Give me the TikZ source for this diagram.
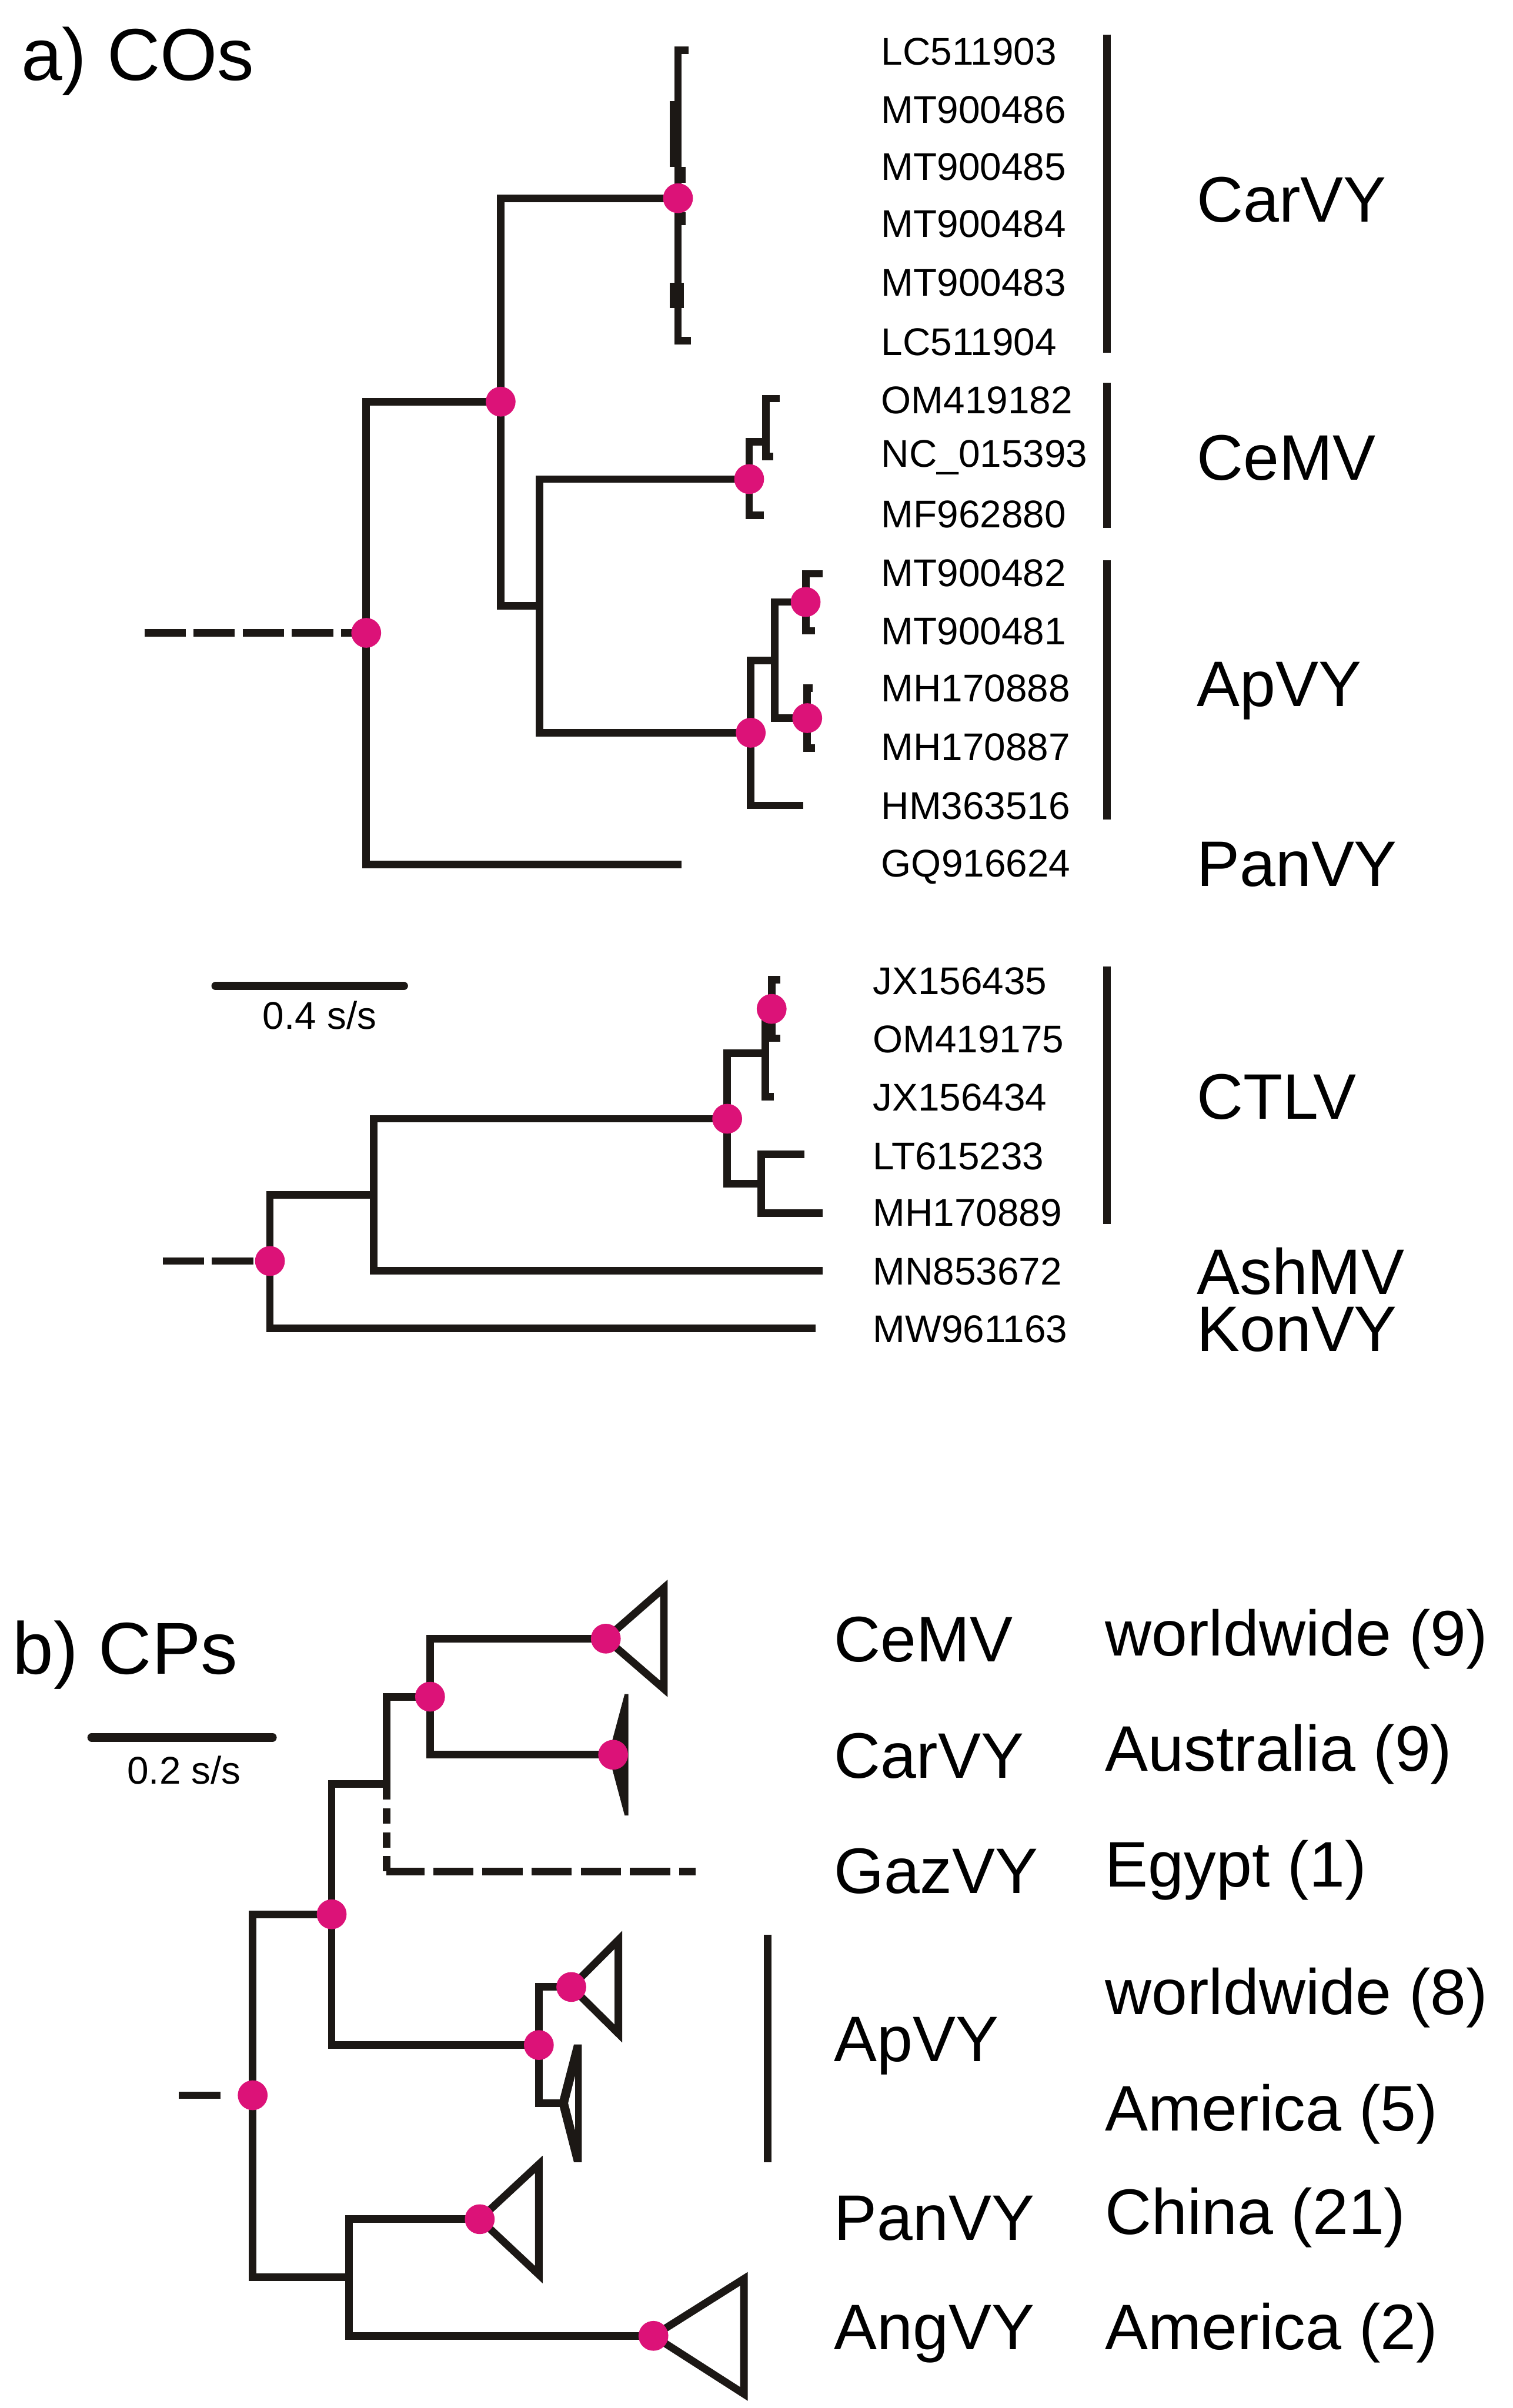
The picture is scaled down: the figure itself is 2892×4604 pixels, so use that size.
\documentclass[tikz,border=0pt]{standalone}
\usepackage{fontspec}
\setmainfont{Liberation Sans}
\definecolor{treeink}{RGB}{28,24,21}
\definecolor{support}{RGB}{220,18,120}

\begin{document}
\begin{tikzpicture}[
  x=0.1mm, y=-0.1mm,
  branch/.style={draw=treeink, line width=4.1pt},
  rootdash/.style={branch, dash pattern=on 7.9mm off 1.5mm},
  scalebar/.style={draw=treeink, line width=4.5pt, line cap=round},
  dot/.style={circle, fill=support, inner sep=0pt, minimum size=5.7mm},
  acc/.style={anchor=base west, inner sep=0pt, font=\fontsize{21}{21}\selectfont},
  virus/.style={anchor=base west, inner sep=0pt, font=\fontsize{35}{35}\selectfont},
  panel/.style={anchor=base west, inner sep=0pt, font=\fontsize{40}{40}\selectfont}
]
\useasboundingbox (0,0) rectangle (2892,4604);

% panel titles
\node[panel] (titleA) at (40,153) {a) COs};
\node[panel] (titleB) at (24,3201) {b) CPs};

% ---- a) upper tree
\coordinate (aStub) at (276,1210);
\coordinate (aRoot) at (700,1210);
\coordinate (aN1) at (957,768);
\coordinate (aPan) at (1303,1653);
\coordinate (aCar) at (1296,379);
\coordinate (aN2) at (1031,1158);
\coordinate (aCe) at (1432,916);
\coordinate (aAp) at (1435,1401);
\coordinate (aCarTop) at (1316,96);
\coordinate (aCarBot) at (1321,651);
\coordinate (aCe2) at (1464,845);
\coordinate (aCeT1) at (1490,762);
\coordinate (aCeT2) at (1478,873);
\coordinate (aCeT3) at (1460,985);
\coordinate (aAp2) at (1481,1263);
\coordinate (aAp3) at (1540,1151);
\coordinate (aAp4) at (1543,1373);
\coordinate (aApT1) at (1573,1097);
\coordinate (aApT2) at (1558,1206);
\coordinate (aApT3) at (1553,1316);
\coordinate (aApT4) at (1558,1430);
\coordinate (aApT5) at (1535,1540);

\draw[rootdash] (aStub) -- (aRoot);
\draw[branch] (aRoot) |- (aN1);
\draw[branch] (aRoot) |- (aPan);
\draw[branch] (aN1) |- (aCar);
\draw[branch] (aN1) |- (aN2);
\draw[branch] (aN2) |- (aCe);
\draw[branch] (aN2) |- (aAp);
\draw[branch] (aCar) |- (aCarTop);
\draw[branch] (aCar) |- (aCarBot);
\draw[branch] (aCe) |- (aCe2);
\draw[branch] (aCe2) |- (aCeT1);
\draw[branch] (aCe2) |- (aCeT2);
\draw[branch] (aCe) |- (aCeT3);
\draw[branch] (aAp) |- (aAp2);
\draw[branch] (aAp) |- (aApT5);
\draw[branch] (aAp2) |- (aAp3);
\draw[branch] (aAp2) |- (aAp4);
\draw[branch] (aAp3) |- (aApT1);
\draw[branch] (aAp3) |- (aApT2);
\draw[branch] (aAp4) |- (aApT3);
\draw[branch] (aAp4) |- (aApT4);

% near-zero branches inside CarVY
\coordinate (aCv1) at (1288,193);
\coordinate (aCv2) at (1288,319);
\coordinate (aCv3) at (1303,319);
\coordinate (aCv4) at (1303,350);
\coordinate (aCv5) at (1303,406);
\coordinate (aCv6) at (1303,431);
\coordinate (aCv7) at (1287,541);
\coordinate (aCv8) at (1287,589);
\coordinate (aCv9) at (1300,541);
\coordinate (aCv10) at (1300,589);
\draw[branch] (aCv1) -- (aCv2);
\draw[branch] (aCv3) -- (aCv4);
\draw[branch] (aCv5) -- (aCv6);
\draw[branch] (aCv7) -- (aCv8);
\draw[branch] (aCv9) -- (aCv10);

% ---- a) lower tree
\coordinate (cStub) at (311,2411);
\coordinate (cRoot) at (516,2411);
\coordinate (cN1) at (714,2285);
\coordinate (cKon) at (1559,2540);
\coordinate (cCT) at (1390,2139);
\coordinate (cAsh) at (1573,2430);
\coordinate (cCT2) at (1463,2014);
\coordinate (cCT3) at (1475,1929);
\coordinate (cT1) at (1492,1873);
\coordinate (cT2) at (1492,1985);
\coordinate (cT3) at (1479,2097);
\coordinate (cCT4) at (1455,2263);
\coordinate (cT4) at (1538,2207);
\coordinate (cT5) at (1572,2319);

\draw[rootdash] (cStub) -- (cRoot);
\draw[branch] (cRoot) |- (cN1);
\draw[branch] (cRoot) |- (cKon);
\draw[branch] (cN1) |- (cCT);
\draw[branch] (cN1) |- (cAsh);
\draw[branch] (cCT) |- (cCT2);
\draw[branch] (cCT) |- (cCT4);
\draw[branch] (cCT2) |- (cCT3);
\draw[branch] (cCT2) |- (cT3);
\draw[branch] (cCT3) |- (cT1);
\draw[branch] (cCT3) |- (cT2);
\draw[branch] (cCT4) |- (cT4);
\draw[branch] (cCT4) |- (cT5);

% scale bar a
\coordinate (sbA1) at (412,1885);
\coordinate (sbA2) at (772,1885);
\draw[scalebar] (sbA1) -- (sbA2);
\node[acc, anchor=base] (sbAlab) at (611,1968) {0.4 s/s};

% clade bars a
\coordinate (barCar1) at (2116,66);
\coordinate (barCar2) at (2116,674);
\coordinate (barCe1) at (2116,732);
\coordinate (barCe2) at (2116,1009);
\coordinate (barAp1) at (2116,1071);
\coordinate (barAp2) at (2116,1567);
\coordinate (barCT1) at (2116,1848);
\coordinate (barCT2) at (2116,2340);
\draw[branch] (barCar1) -- (barCar2);
\draw[branch] (barCe1) -- (barCe2);
\draw[branch] (barAp1) -- (barAp2);
\draw[branch] (barCT1) -- (barCT2);

% accession labels
\node[acc] (accA1) at (1684,124) {LC511903};
\node[acc] (accA2) at (1684,236) {MT900486};
\node[acc] (accA3) at (1684,344) {MT900485};
\node[acc] (accA4) at (1684,454) {MT900484};
\node[acc] (accA5) at (1684,566) {MT900483};
\node[acc] (accA6) at (1684,679) {LC511904};
\node[acc] (accA7) at (1684,791) {OM419182};
\node[acc] (accA8) at (1684,893) {NC\_015393};
\node[acc] (accA9) at (1684,1009) {MF962880};
\node[acc] (accA10) at (1684,1121) {MT900482};
\node[acc] (accA11) at (1684,1233) {MT900481};
\node[acc] (accA12) at (1684,1342) {MH170888};
\node[acc] (accA13) at (1684,1454) {MH170887};
\node[acc] (accA14) at (1684,1566) {HM363516};
\node[acc] (accA15) at (1684,1676) {GQ916624};
\node[acc] (accC1) at (1668,1901) {JX156435};
\node[acc] (accC2) at (1668,2012) {OM419175};
\node[acc] (accC3) at (1668,2124) {JX156434};
\node[acc] (accC4) at (1668,2236) {LT615233};
\node[acc] (accC5) at (1668,2344) {MH170889};
\node[acc] (accC6) at (1668,2456) {MN853672};
\node[acc] (accC7) at (1668,2567) {MW961163};

% virus names a
\node[virus] (virA1) at (2287,424) {CarVY};
\node[virus] (virA2) at (2287,918) {CeMV};
\node[virus] (virA3) at (2287,1351) {ApVY};
\node[virus] (virA4) at (2287,1695) {PanVY};
\node[virus] (virA5) at (2287,2140) {CTLV};
\node[virus] (virA6) at (2287,2474) {AshMV};
\node[virus] (virA7) at (2287,2583) {KonVY};

% ---- b) tree
\coordinate (bStubA) at (342,4006);
\coordinate (bStubB) at (421,4006);
\coordinate (bRoot) at (483,4006);
\coordinate (bN1) at (634,3660);
\coordinate (bN4) at (667,4354);
\coordinate (bN2) at (739,3411);
\coordinate (bApN) at (1030,3910);
\coordinate (bN3) at (822,3244);
\coordinate (bGazC) at (739,3578);
\coordinate (bGaz) at (1330,3578);
\coordinate (bCe) at (1158,3133);
\coordinate (bCar) at (1172,3355);
\coordinate (bApW) at (1092,3799);
\coordinate (bApA) at (1076,4021);
\coordinate (bPan) at (917,4243);
\coordinate (bAng) at (1249,4466);

\draw[branch] (bStubA) -- (bStubB);
\draw[branch] (bRoot) |- (bN1);
\draw[branch] (bRoot) |- (bN4);
\draw[branch] (bN1) |- (bN2);
\draw[branch] (bN1) |- (bApN);
\draw[branch] (bN2) |- (bN3);
\draw[branch] (bN3) |- (bCe);
\draw[branch] (bN3) |- (bCar);
\draw[branch, dash pattern=on 3mm off 1.6mm] (bN2) -- (bGazC);
\draw[branch, dash pattern=on 7.7mm off 1.7mm, dash phase=0.5mm] (bGazC) -- (bGaz);
\draw[branch] (bApN) |- (bApW);
\draw[branch] (bApN) |- (bApA);
\draw[branch] (bN4) |- (bPan);
\draw[branch] (bN4) |- (bAng);

% collapsed clades
\coordinate (bCeTop) at (1269,3036);
\coordinate (bCeBot) at (1269,3229);
\draw[branch] (bCe) -- (bCeTop) -- (bCeBot) -- cycle;
\coordinate (bCarTop) at (1194,3239);
\coordinate (bCarBot) at (1194,3471);
\fill[treeink] (1163,3355) -- (bCarTop) -- (1201,3239) -- (1201,3471) -- (bCarBot) -- cycle;
\coordinate (bApWTop) at (1182,3709);
\coordinate (bApWBot) at (1182,3888);
\draw[branch] (bApW) -- (bApWTop) -- (bApWBot) -- cycle;
\coordinate (bApATop) at (1097,3909);
\coordinate (bApABot) at (1097,4134);
\fill[treeink] (1068,4021) -- (bApATop) -- (1112,3909) -- (1112,4134) -- (bApABot) -- cycle;
\fill[white] (1086,4021) -- (1099,3970) -- (1099,4072) -- cycle;
\coordinate (bPanTop) at (1030,4138);
\coordinate (bPanBot) at (1030,4349);
\draw[branch] (bPan) -- (bPanTop) -- (bPanBot) -- cycle;
\coordinate (bAngTop) at (1422,4357);
\coordinate (bAngBot) at (1422,4577);
\draw[branch] (bAng) -- (bAngTop) -- (bAngBot) -- cycle;

% scale bar b
\coordinate (sbB1) at (175,3322);
\coordinate (sbB2) at (521,3322);
\draw[scalebar] (sbB1) -- (sbB2);
\node[acc, anchor=base] (sbBlab) at (352,3411) {0.2 s/s};

% ApVY bar b
\coordinate (barB1) at (1467,3699);
\coordinate (barB2) at (1467,4134);
\draw[branch] (barB1) -- (barB2);

% labels b
\node[virus] (virB1) at (1594,3177) {CeMV};
\node[virus] (virB2) at (1594,3400) {CarVY};
\node[virus] (virB3) at (1594,3620) {GazVY};
\node[virus] (virB4) at (1594,3941) {ApVY};
\node[virus] (virB5) at (1594,4283) {PanVY};
\node[virus] (virB6) at (1594,4492) {AngVY};
\node[virus] (geoB1) at (2112,3166) {worldwide (9)};
\node[virus] (geoB2) at (2112,3386) {Australia (9)};
\node[virus] (geoB3) at (2112,3607) {Egypt (1)};
\node[virus] (geoB4) at (2112,3851) {worldwide (8)};
\node[virus] (geoB5) at (2112,4074) {America (5)};
\node[virus] (geoB6) at (2112,4272) {China (21)};
\node[virus] (geoB7) at (2112,4492) {America (2)};

% support dots
\node[dot] (dA1) at (aRoot) {};
\node[dot] (dA2) at (aN1) {};
\node[dot] (dA3) at (aCar) {};
\node[dot] (dA4) at (aCe) {};
\node[dot] (dA5) at (aAp) {};
\node[dot] (dA6) at (aAp3) {};
\node[dot] (dA7) at (aAp4) {};
\node[dot] (dC1) at (cRoot) {};
\node[dot] (dC2) at (cCT) {};
\node[dot] (dC3) at (cCT3) {};
\node[dot] (dB1) at (bRoot) {};
\node[dot] (dB2) at (bN1) {};
\node[dot] (dB3) at (bN3) {};
\node[dot] (dB4) at (bCe) {};
\node[dot] (dB5) at (bCar) {};
\node[dot] (dB6) at (bApN) {};
\node[dot] (dB7) at (bApW) {};
\node[dot] (dB8) at (bPan) {};
\node[dot] (dB9) at (bAng) {};
\end{tikzpicture}
\end{document}
